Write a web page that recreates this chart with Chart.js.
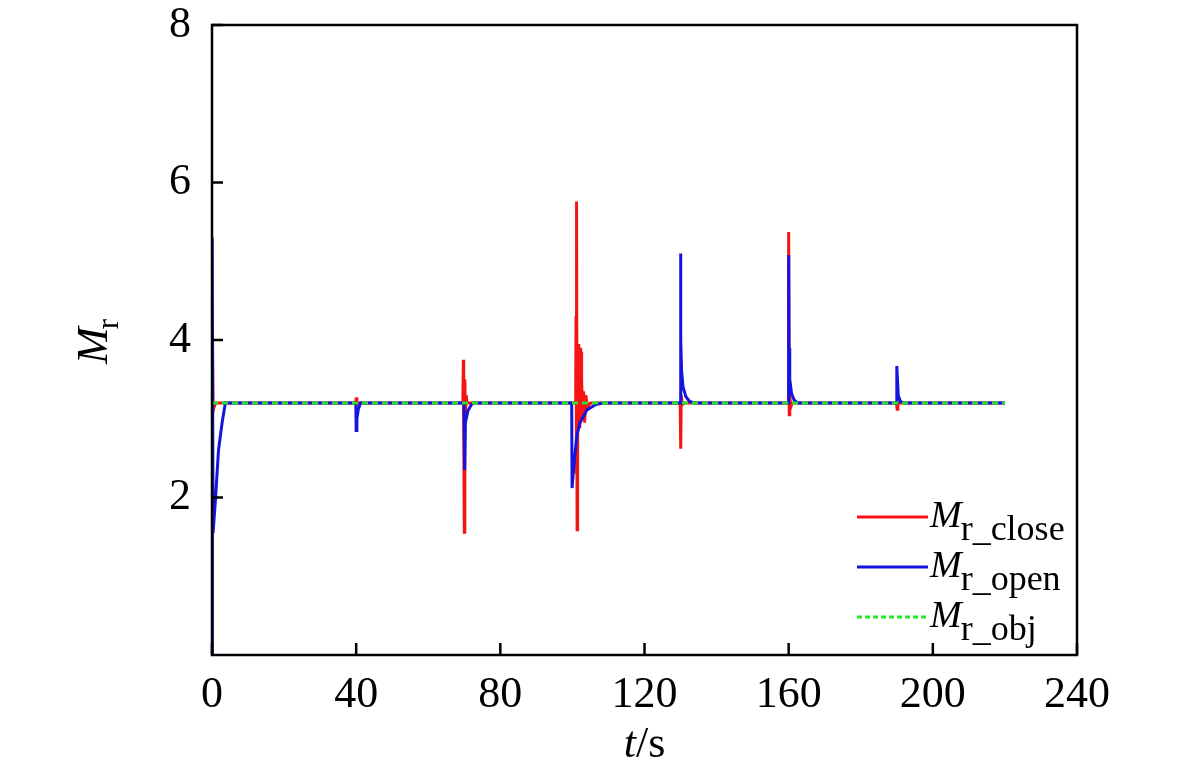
<!DOCTYPE html>
<html>
<head>
<meta charset="utf-8">
<script src="https://cdn.jsdelivr.net/npm/chart.js@4.4.0/dist/chart.umd.min.js"></script>
<style>
  html, body { margin: 0; padding: 0; background: #fff; }
</style>
</head>
<body>
<canvas id="mrChart" width="1181" height="771"></canvas>
<script>
// values (t in s, M_r)
const tClose = [0, 0.1, 0.3, 0.6, 1,
  39.9, 40, 40.2, 40.5,
  69.6, 69.75, 69.85, 70, 70.15, 70.3, 70.5, 70.8,
  100.9, 101.0, 101.1, 101.2, 101.3, 101.4, 101.5, 101.6, 101.7, 101.8, 101.9, 102.0, 102.1, 102.2, 102.3, 102.4, 102.5, 102.6, 102.8, 103.1, 103.4, 103.7, 104.2, 105,
  129.9, 130.05, 130.2, 130.5, 131,
  159.9, 160, 160.15, 160.3, 160.6, 161,
  189.9, 190.1, 190.3,
  220];
const mClose = [0, 4.28, 3.1, 3.15, 3.2,
  3.2, 3.27, 3.18, 3.2,
  3.2, 3.75, 2.8, 1.56, 3.5, 3.0, 3.3, 3.2,
  3.2, 4.3, 2.3, 5.76, 1.59, 3.95, 2.9, 3.95, 2.95, 3.93, 2.9, 3.9, 2.95, 3.9, 3.0, 3.85, 3.0, 3.5, 3.05, 3.35, 2.95, 3.3, 3.15, 3.2,
  3.2, 2.62, 3.3, 3.18, 3.2,
  3.2, 5.37, 3.05, 3.3, 3.15, 3.2,
  3.2, 3.12, 3.2,
  3.2];

const tOpen = [0, 0.05, 0.3, 1, 1.8, 2.8, 3.7,
  39.9, 40, 40.2, 40.6, 41.2,
  69.9, 70.1, 70.3, 71, 72, 72.5,
  99.8, 99.9, 100.4, 101.2, 102.1, 104, 106.5, 108.5,
  129.95, 130, 130.1, 130.3, 130.7, 131.5, 132.5, 134,
  159.95, 160, 160.1, 160.3, 160.8, 161.5, 162.5,
  189.9, 190, 190.4, 191, 192,
  220];
const mOpen = [0, 5.3, 1.55, 2.0, 2.6, 2.95, 3.2,
  3.2, 2.85, 3.0, 3.12, 3.2,
  3.2, 2.35, 2.95, 3.1, 3.18, 3.2,
  3.2, 2.12, 2.4, 2.78, 2.95, 3.11, 3.18, 3.2,
  3.2, 5.1, 4.0, 3.6, 3.4, 3.28, 3.22, 3.2,
  3.2, 5.08, 3.9, 3.5, 3.32, 3.24, 3.2,
  3.2, 3.67, 3.3, 3.22, 3.2,
  3.2];

const tObj = [0, 220];
const mObj = [3.2, 3.2];

const xTicks = [0, 40, 80, 120, 160, 200, 240];
const yTicks = [2, 4, 6, 8];

const RED = 'rgb(245,20,20)';
const BLUE = 'rgb(20,20,225)';
const GREEN = 'rgb(40,225,40)';
const SERIF = '"Liberation Serif", "Times New Roman", serif';

const pts = (xs, ys) => xs.map((x, i) => ({ x: x, y: ys[i] }));

// frame, inward ticks, axis titles and legend with subscripts
const decor = {
  id: 'decor',
  afterDraw(chart) {
    const { ctx, chartArea: a, scales } = chart;
    ctx.save();
    ctx.strokeStyle = '#000';
    ctx.lineWidth = 2.5;
    ctx.strokeRect(a.left, a.top, a.right - a.left, a.bottom - a.top);

    ctx.beginPath();
    xTicks.forEach(v => {
      const px = scales.x.getPixelForValue(v);
      ctx.moveTo(px, a.bottom);
      ctx.lineTo(px, a.bottom - 12);
    });
    yTicks.forEach(v => {
      const py = scales.y.getPixelForValue(v);
      ctx.moveTo(a.left, py);
      ctx.lineTo(a.left + 11, py);
    });
    ctx.stroke();

    ctx.fillStyle = '#000';
    ctx.textBaseline = 'alphabetic';

    // x title: t/s
    ctx.font = 'italic 44px ' + SERIF;
    const wT = ctx.measureText('t').width;
    ctx.font = '44px ' + SERIF;
    const wS = ctx.measureText('/s').width;
    const cx = (a.left + a.right) / 2;
    const x0 = cx - (wT + wS) / 2;
    ctx.font = 'italic 44px ' + SERIF;
    ctx.fillText('t', x0, 757);
    ctx.font = '44px ' + SERIF;
    ctx.fillText('/s', x0 + wT, 757);

    // y title: M_r
    ctx.save();
    ctx.translate(107, 364);
    ctx.rotate(-Math.PI / 2);
    ctx.font = 'italic 44px ' + SERIF;
    const wM = ctx.measureText('M').width;
    ctx.fillText('M', 0, 0);
    ctx.font = '31px ' + SERIF;
    ctx.fillText('r', wM - 2, 11);
    ctx.restore();

    // legend
    const items = [
      { sub: 'r_close', color: RED, dash: [] },
      { sub: 'r_open', color: BLUE, dash: [] },
      { sub: 'r_obj', color: GREEN, dash: [5, 3] }
    ];
    items.forEach((it, i) => {
      const ly = 517 + i * 50;
      ctx.strokeStyle = it.color;
      ctx.lineWidth = 3;
      ctx.setLineDash(it.dash);
      ctx.beginPath();
      ctx.moveTo(857, ly);
      ctx.lineTo(928, ly);
      ctx.stroke();
      ctx.setLineDash([]);
      ctx.font = 'italic 38px ' + SERIF;
      const w = ctx.measureText('M').width;
      ctx.fillText('M', 930, ly + 10);
      ctx.font = '36px ' + SERIF;
      ctx.fillText(it.sub, 929 + w, ly + 23);
    });
    ctx.restore();
  }
};

const noPad = s => { s.paddingTop = 0; s.paddingBottom = 0; s.paddingLeft = 0; s.paddingRight = 0; };

new Chart(document.getElementById('mrChart').getContext('2d'), {
  type: 'scatter',
  data: {
    datasets: [
      {
        label: 'M_r_obj',
        data: pts(tObj, mObj),
        showLine: true,
        borderColor: GREEN,
        borderWidth: 3,
        borderDash: [6, 4],
        pointRadius: 0,
        order: 0
      },
      {
        label: 'M_r_open',
        data: pts(tOpen, mOpen),
        showLine: true,
        borderColor: BLUE,
        borderWidth: 3,
        pointRadius: 0,
        order: 1
      },
      {
        label: 'M_r_close',
        data: pts(tClose, mClose),
        showLine: true,
        borderColor: RED,
        borderWidth: 3,
        pointRadius: 0,
        order: 2
      }
    ]
  },
  options: {
    responsive: false,
    animation: false,
    devicePixelRatio: 1,
    layout: { padding: { top: 25, right: 104, left: 0, bottom: 0 } },
    plugins: {
      legend: { display: false },
      tooltip: { enabled: false }
    },
    scales: {
      x: {
        type: 'linear',
        min: 0,
        max: 240,
        afterBuildTicks: s => { s.ticks = xTicks.map(v => ({ value: v })); },
        afterFit: s => { s.height = 116; noPad(s); },
        grid: { display: false },
        border: { display: false },
        ticks: { color: '#000', padding: 6, maxRotation: 0, font: { family: SERIF, size: 44 } }
      },
      y: {
        type: 'linear',
        min: 0,
        max: 8,
        afterBuildTicks: s => { s.ticks = yTicks.map(v => ({ value: v })); },
        afterFit: s => { s.width = 212; noPad(s); },
        grid: { display: false },
        border: { display: false },
        ticks: { color: '#000', padding: 13, font: { family: SERIF, size: 44 } }
      }
    }
  },
  plugins: [decor]
});
</script>
</body>
</html>
